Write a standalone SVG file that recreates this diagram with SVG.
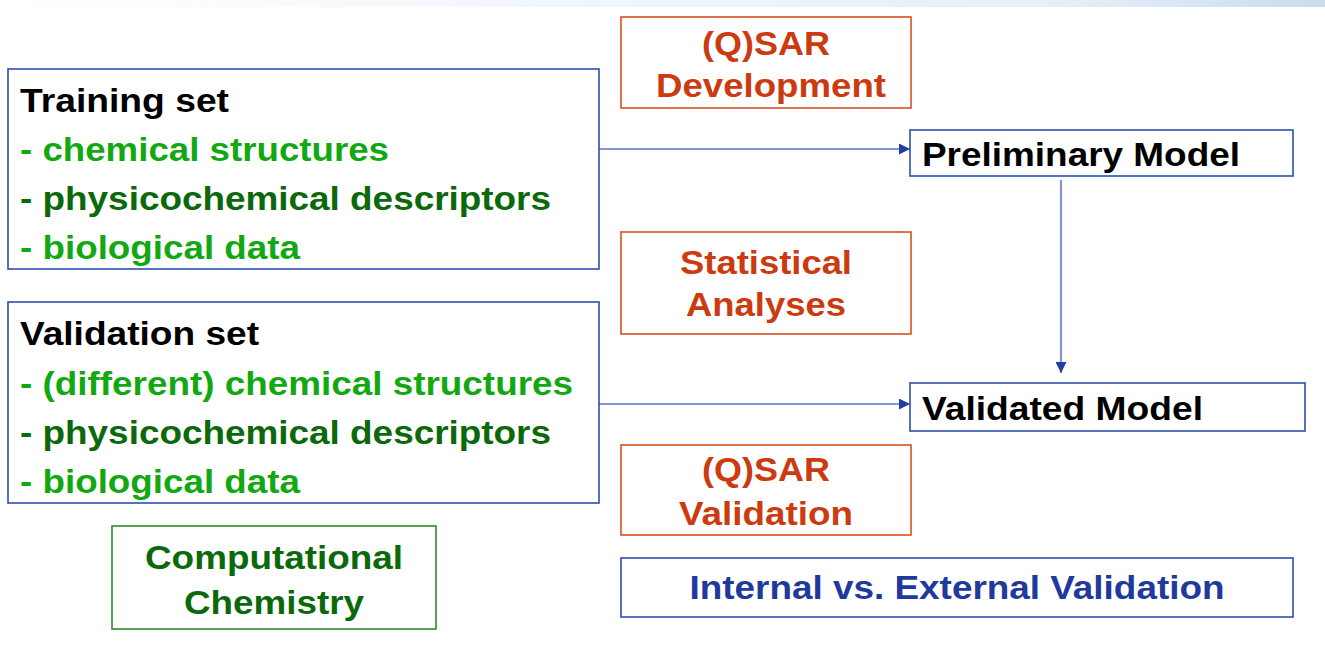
<svg xmlns="http://www.w3.org/2000/svg" width="1325" height="649" viewBox="0 0 1325 649">
<defs>
<linearGradient id="band" x1="0" y1="0" x2="1" y2="0">
<stop offset="0" stop-color="#ffffff"/>
<stop offset="0.8" stop-color="#e6eff8"/>
<stop offset="1" stop-color="#c9dcf0"/>
</linearGradient>
<marker id="arr" viewBox="0 0 10 10" refX="10" refY="5" markerWidth="11" markerHeight="11" markerUnits="userSpaceOnUse" orient="auto">
<path d="M0,0 L10,5 L0,10 z" fill="#1f3fa6"/>
</marker>
<style>
.t{font-family:"Liberation Sans",Arial,sans-serif;font-weight:bold;font-size:33px}
.blk{fill:#000}
.lg{fill:#12a812}
.dg{fill:#0b680b}
.or{fill:#cc3a10}
.bl{fill:#1f3a9c}
.bbox{fill:#fff;stroke:#2c4fae;stroke-width:1.6}
.obox{fill:#fff;stroke:#d9501f;stroke-width:1.6}
.gbox{fill:#fff;stroke:#2e8a2e;stroke-width:1.6}
.conn{stroke:#8796cf;stroke-width:2.2;fill:none;marker-end:url(#arr)}
</style>
</defs>
<rect x="0" y="0" width="1325" height="649" fill="#fff"/>
<rect x="0" y="0" width="1325" height="7" fill="url(#band)"/>

<g id="connectors">
<line class="conn" x1="599" y1="149" x2="910" y2="149"/>
<line class="conn" x1="1061" y1="180" x2="1061" y2="373"/>
<line class="conn" x1="599" y1="404" x2="910" y2="404"/>
</g>

<g id="training">
<rect class="bbox" x="8" y="69" width="591" height="200"/>
<text class="t blk" x="20" y="112" textLength="209" lengthAdjust="spacingAndGlyphs">Training set</text>
<text class="t lg" x="20" y="161" textLength="369" lengthAdjust="spacingAndGlyphs">- chemical structures</text>
<text class="t dg" x="20" y="210" textLength="531" lengthAdjust="spacingAndGlyphs">- physicochemical descriptors</text>
<text class="t lg" x="20" y="259" textLength="280" lengthAdjust="spacingAndGlyphs">- biological data</text>
</g>

<g id="validation">
<rect class="bbox" x="8" y="302" width="591" height="201"/>
<text class="t blk" x="20" y="345" textLength="239" lengthAdjust="spacingAndGlyphs">Validation set</text>
<text class="t lg" x="20" y="395" textLength="553" lengthAdjust="spacingAndGlyphs">- (different) chemical structures</text>
<text class="t dg" x="20" y="444" textLength="531" lengthAdjust="spacingAndGlyphs">- physicochemical descriptors</text>
<text class="t lg" x="20" y="493" textLength="280" lengthAdjust="spacingAndGlyphs">- biological data</text>
</g>

<g id="comp-chem">
<rect class="gbox" x="112" y="526" width="324" height="103"/>
<text class="t dg" x="274" y="569" text-anchor="middle" textLength="258" lengthAdjust="spacingAndGlyphs">Computational</text>
<text class="t dg" x="274" y="614" text-anchor="middle" textLength="180" lengthAdjust="spacingAndGlyphs">Chemistry</text>
</g>

<g id="qsar-dev">
<rect class="obox" x="621" y="17" width="290" height="91"/>
<text class="t or" x="766" y="55" text-anchor="middle" textLength="128" lengthAdjust="spacingAndGlyphs">(Q)SAR</text>
<text class="t or" x="771" y="97" text-anchor="middle" textLength="230" lengthAdjust="spacingAndGlyphs">Development</text>
</g>

<g id="stat">
<rect class="obox" x="621" y="232" width="290" height="102"/>
<text class="t or" x="766" y="274" text-anchor="middle" textLength="172" lengthAdjust="spacingAndGlyphs">Statistical</text>
<text class="t or" x="766" y="316" text-anchor="middle" textLength="160" lengthAdjust="spacingAndGlyphs">Analyses</text>
</g>

<g id="qsar-val">
<rect class="obox" x="621" y="445" width="290" height="90"/>
<text class="t or" x="766" y="481" text-anchor="middle" textLength="128" lengthAdjust="spacingAndGlyphs">(Q)SAR</text>
<text class="t or" x="766" y="525" text-anchor="middle" textLength="174" lengthAdjust="spacingAndGlyphs">Validation</text>
</g>

<g id="internal-external">
<rect class="bbox" x="621" y="558" width="672" height="59"/>
<text class="t bl" x="957" y="599" text-anchor="middle" textLength="535" lengthAdjust="spacingAndGlyphs">Internal vs. External Validation</text>
</g>

<g id="preliminary">
<rect class="bbox" x="910" y="130" width="383" height="46"/>
<text class="t blk" x="922" y="166" textLength="318" lengthAdjust="spacingAndGlyphs">Preliminary Model</text>
</g>

<g id="validated">
<rect class="bbox" x="910" y="383" width="395" height="48"/>
<text class="t blk" x="922" y="420" textLength="281" lengthAdjust="spacingAndGlyphs">Validated Model</text>
</g>
</svg>
